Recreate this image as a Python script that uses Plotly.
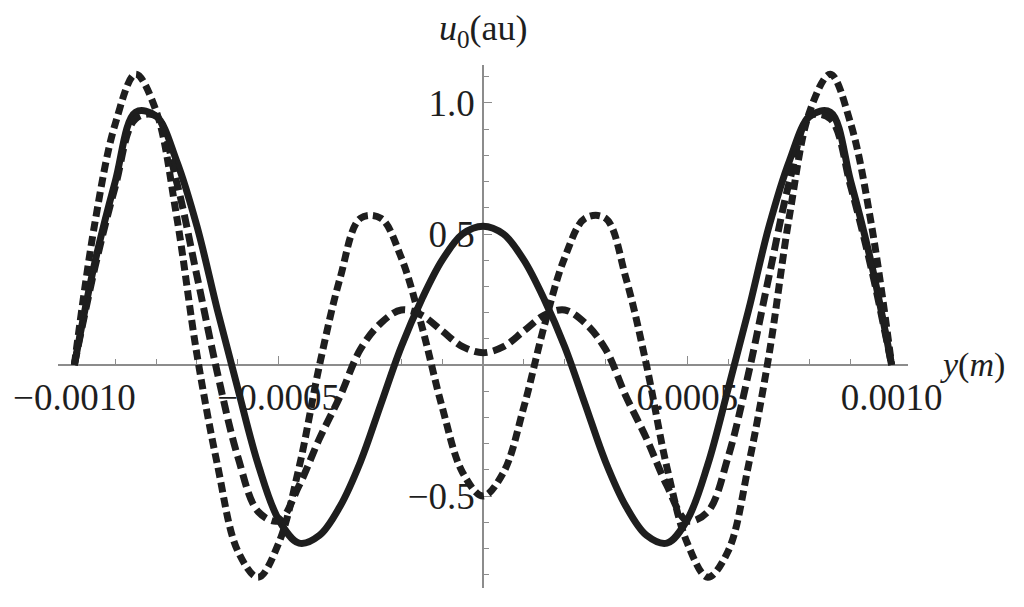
import plotly.graph_objects as go

# sample positions along y (m)
y_pos = [-0.001, -0.00095, -0.0009, -0.00085, -0.0008, -0.00075, -0.0007, -0.00065, -0.0006, -0.00055,
         -0.0005, -0.00045, -0.0004, -0.00035, -0.0003, -0.00025, -0.0002, -0.00015, -0.0001, -0.00005,
         0.0,
         0.00005, 0.0001, 0.00015, 0.0002, 0.00025, 0.0003, 0.00035, 0.0004, 0.00045, 0.0005,
         0.00055, 0.0006, 0.00065, 0.0007, 0.00075, 0.0008, 0.00085, 0.0009, 0.00095, 0.001]

# solid curve
u_solid = [0.0, 0.39, 0.70, 0.965, 0.95, 0.78, 0.53, 0.21, -0.09, -0.38,
           -0.59, -0.68, -0.65, -0.54, -0.37, -0.15, 0.07, 0.25, 0.40, 0.50,
           0.53,
           0.50, 0.40, 0.25, 0.07, -0.15, -0.37, -0.54, -0.65, -0.68, -0.59,
           -0.38, -0.09, 0.21, 0.53, 0.78, 0.95, 0.965, 0.70, 0.39, 0.0]

# long-dashed curve
u_dashed = [0.0, 0.37, 0.68, 0.94, 0.95, 0.70, 0.34, -0.03, -0.35, -0.56,
            -0.595, -0.46, -0.28, -0.12, 0.06, 0.16, 0.21, 0.19, 0.13, 0.07,
            0.047,
            0.07, 0.13, 0.19, 0.21, 0.16, 0.06, -0.12, -0.28, -0.46, -0.595,
            -0.56, -0.35, -0.03, 0.34, 0.70, 0.95, 0.94, 0.68, 0.37, 0.0]

# short-dashed curve
u_short = [0.0, 0.54, 0.92, 1.11, 0.97, 0.57, 0.04, -0.38, -0.71, -0.81,
           -0.68, -0.39, 0.0, 0.33, 0.56, 0.56, 0.41, 0.15, -0.16, -0.41,
           -0.50,
           -0.41, -0.16, 0.15, 0.41, 0.56, 0.56, 0.33, 0.0, -0.39, -0.68,
           -0.81, -0.71, -0.38, 0.04, 0.57, 0.97, 1.11, 0.92, 0.54, 0.0]

x_ticks = [-0.001, -0.0005, 0.0005, 0.001]
x_labels = ["\u22120.0010", "\u22120.0005", "0.0005", "0.0010"]
u_ticks = [-0.5, 0.5, 1.0]
u_labels = ["\u22120.5", "0.5", "1.0"]

x_range = [-0.00104, 0.00104]
u_range = [-0.851, 1.145]

ink = "#1e1e1e"
axis_grey = "#8c8c8c"
serif = "Liberation Serif, Times New Roman, serif"

fig = go.Figure()
fig.add_trace(go.Scatter(x=y_pos, y=u_solid, mode="lines", line_shape="spline",
                         line=dict(color=ink, width=7), name="solid"))
fig.add_trace(go.Scatter(x=y_pos, y=u_dashed, mode="lines", line_shape="spline",
                         line=dict(color=ink, width=7, dash="13px,6px"), name="dashed"))
fig.add_trace(go.Scatter(x=y_pos, y=u_short, mode="lines", line_shape="spline",
                         line=dict(color=ink, width=7, dash="10px,5px"), name="short"))

# axes cross at the origin, like Mathematica
# (page body adds an 8px offset, so the figure is 8px smaller than the window)
x_pos_frac = (0 - u_range[0]) / (u_range[1] - u_range[0])
fig.update_layout(
    width=1016, height=599,
    margin=dict(l=50, r=116, t=57, b=19, autoexpand=False),
    paper_bgcolor="white", plot_bgcolor="white",
    showlegend=False,
    font=dict(family=serif, size=37, color=ink),
    xaxis=dict(range=x_range, anchor="free", position=x_pos_frac, automargin=False,
               showgrid=False, zeroline=False, showline=True, linecolor=axis_grey, linewidth=1.5,
               tickmode="array", tickvals=x_ticks, ticktext=x_labels,
               ticks="inside", ticklen=8, tickwidth=1.2, tickcolor=axis_grey,
               minor=dict(tickmode="linear", tick0=0, dtick=0.0001, ticks="inside",
                          ticklen=5, tickwidth=1, tickcolor=axis_grey),
               layer="below traces", tickfont=dict(family=serif, size=37, color=ink)),
    yaxis=dict(range=u_range, anchor="free", position=0.5, automargin=False,
               showgrid=False, zeroline=False, showline=True, linecolor=axis_grey, linewidth=1.5,
               tickmode="array", tickvals=u_ticks, ticktext=u_labels,
               ticks="inside", ticklen=8, tickwidth=1.2, tickcolor=axis_grey,
               minor=dict(tickmode="linear", tick0=0, dtick=0.1, ticks="inside",
                          ticklen=5, tickwidth=1, tickcolor=axis_grey),
               layer="below traces", tickfont=dict(family=serif, size=37, color=ink)),
)

fig.add_annotation(text="<i>u</i><sub>0</sub>(au)", xref="paper", yref="paper",
                   x=0.501, y=1.0, yshift=11, xanchor="center", yanchor="bottom",
                   showarrow=False, borderpad=0, font=dict(family=serif, size=36, color=ink))
fig.add_annotation(text="<i>y</i>(<i>m</i>)", xref="paper", yref="paper",
                   x=1.0, y=x_pos_frac, xshift=30, xanchor="left", yanchor="middle",
                   showarrow=False, font=dict(family=serif, size=34, color=ink))

fig.write_html("out.html")
